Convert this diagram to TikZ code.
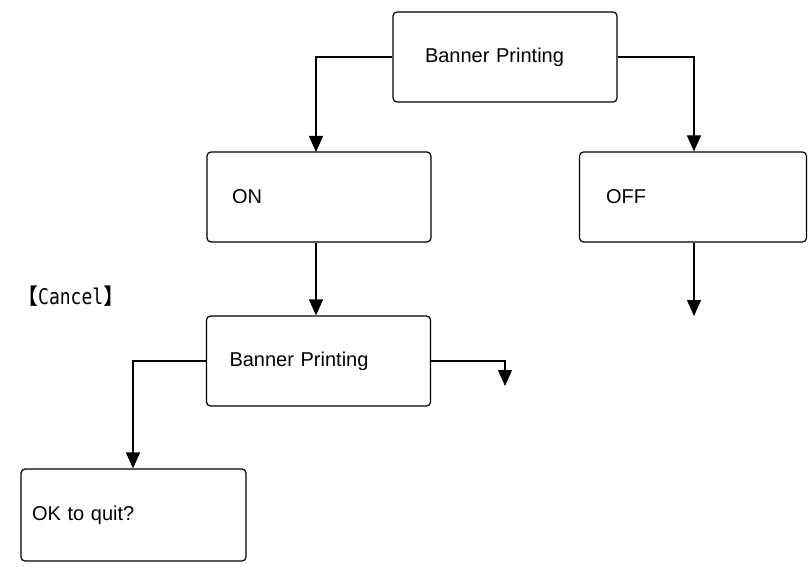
\documentclass[tikz,border=0pt]{standalone}
\usepackage{fontspec}
\setmainfont{Liberation Sans}
\newfontfamily\cjk{Noto Sans CJK JP}
\newfontfamily\monofam{DejaVu Sans Mono}
\usetikzlibrary{arrows.meta}
\begin{document}
\begin{tikzpicture}[x=1pt,y=-1pt,
  box/.style={draw,line width=1.2pt,rounded corners=4pt,minimum width=224pt,minimum height=90pt,text width=174pt,align=left,inner xsep=25pt,font=\fontsize{20}{23}\selectfont},
  arr/.style={line width=1.2pt,-{Triangle[length=16pt,width=14pt]}}]
\useasboundingbox (0,0) rectangle (809,567);
\node[box,inner xsep=32pt,text width=160pt] (top) at (505,57) {Banner Printing\\[10pt]};
\node[box] (on) at (319,197) {ON};
\node[box,minimum width=227pt] (off) at (693,197) {OFF};
\node[box,inner xsep=23pt,text width=178pt] (bp) at (318.5,361) {Banner Printing\\[6pt]};
\node[box,minimum width=225pt,minimum height=92pt,inner xsep=11pt,text width=203pt] (ok) at (133.5,515) {OK to quit?};
\node[anchor=west,inner sep=0pt,font=\fontsize{22}{24}\selectfont] (cancel) at (16,296) {{\cjk 【}{\monofam\fontsize{18}{22}\selectfont\scalebox{1}[1.2]{Cancel}}{\cjk 】}};
\coordinate (e1) at (694,316);
\coordinate (e2) at (505,386);
\draw[arr] (top.west) -| (316,152);
\draw[arr] (top.east) -| (off.north -| 694,0);
\draw[arr] (off.south -| 694,0) -- (e1);
\draw[arr] (on.south -| 316,0) -- (bp.north -| 316,0);
\draw[arr] (bp.west) -| (ok.north -| 133,0);
\draw[arr] (bp.east) -| (e2);
\end{tikzpicture}
\end{document}
